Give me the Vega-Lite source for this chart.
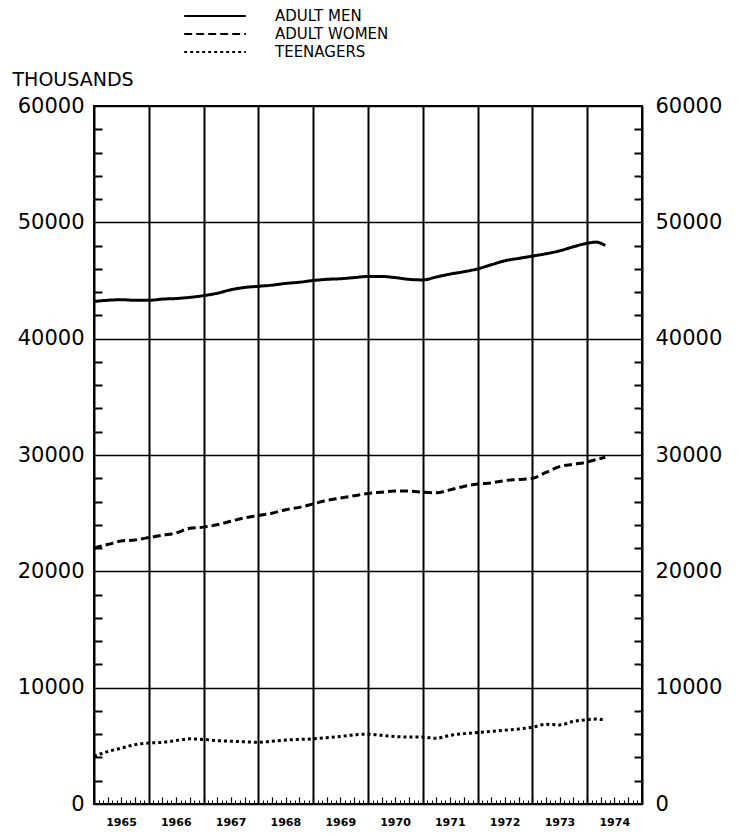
{
  "$schema": "https://vega.github.io/schema/vega-lite/v6.json",
  "width": 548,
  "height": 698,
  "autosize": {"type": "none"},
  "padding": {"left": 94, "top": 106, "right": 97, "bottom": 32},
  "background": "white",
  "config": {
    "view": {"stroke": "black", "strokeWidth": 2},
    "font": "DejaVu Sans",
    "axis": {"domain": false, "labelColor": "black", "tickColor": "black", "gridColor": "black", "gridOpacity": 1, "titleColor": "black"}
  },
  "data": {"values": [
    {"date": "1965-01-01", "series": "ADULT MEN", "value": 43200},
    {"date": "1965-04-01", "series": "ADULT MEN", "value": 43300},
    {"date": "1965-07-01", "series": "ADULT MEN", "value": 43350},
    {"date": "1965-10-01", "series": "ADULT MEN", "value": 43300},
    {"date": "1966-01-01", "series": "ADULT MEN", "value": 43300},
    {"date": "1966-04-01", "series": "ADULT MEN", "value": 43400},
    {"date": "1966-07-01", "series": "ADULT MEN", "value": 43450},
    {"date": "1966-10-01", "series": "ADULT MEN", "value": 43550},
    {"date": "1967-01-01", "series": "ADULT MEN", "value": 43700},
    {"date": "1967-04-01", "series": "ADULT MEN", "value": 43900},
    {"date": "1967-07-01", "series": "ADULT MEN", "value": 44200},
    {"date": "1967-10-01", "series": "ADULT MEN", "value": 44400},
    {"date": "1968-01-01", "series": "ADULT MEN", "value": 44500},
    {"date": "1968-04-01", "series": "ADULT MEN", "value": 44600},
    {"date": "1968-07-01", "series": "ADULT MEN", "value": 44750},
    {"date": "1968-10-01", "series": "ADULT MEN", "value": 44850},
    {"date": "1969-01-01", "series": "ADULT MEN", "value": 45000},
    {"date": "1969-04-01", "series": "ADULT MEN", "value": 45100},
    {"date": "1969-07-01", "series": "ADULT MEN", "value": 45150},
    {"date": "1969-10-01", "series": "ADULT MEN", "value": 45250},
    {"date": "1970-01-01", "series": "ADULT MEN", "value": 45350},
    {"date": "1970-04-01", "series": "ADULT MEN", "value": 45350},
    {"date": "1970-07-01", "series": "ADULT MEN", "value": 45250},
    {"date": "1970-10-01", "series": "ADULT MEN", "value": 45100},
    {"date": "1971-01-01", "series": "ADULT MEN", "value": 45050},
    {"date": "1971-04-01", "series": "ADULT MEN", "value": 45300},
    {"date": "1971-07-01", "series": "ADULT MEN", "value": 45550},
    {"date": "1971-10-01", "series": "ADULT MEN", "value": 45750},
    {"date": "1972-01-01", "series": "ADULT MEN", "value": 46000},
    {"date": "1972-04-01", "series": "ADULT MEN", "value": 46350},
    {"date": "1972-07-01", "series": "ADULT MEN", "value": 46700},
    {"date": "1972-10-01", "series": "ADULT MEN", "value": 46900},
    {"date": "1973-01-01", "series": "ADULT MEN", "value": 47100},
    {"date": "1973-04-01", "series": "ADULT MEN", "value": 47300},
    {"date": "1973-07-01", "series": "ADULT MEN", "value": 47550},
    {"date": "1973-10-01", "series": "ADULT MEN", "value": 47900},
    {"date": "1974-01-01", "series": "ADULT MEN", "value": 48200},
    {"date": "1974-03-01", "series": "ADULT MEN", "value": 48300},
    {"date": "1974-05-01", "series": "ADULT MEN", "value": 48000},
    {"date": "1965-01-01", "series": "ADULT WOMEN", "value": 22000},
    {"date": "1965-04-01", "series": "ADULT WOMEN", "value": 22300},
    {"date": "1965-07-01", "series": "ADULT WOMEN", "value": 22600},
    {"date": "1965-10-01", "series": "ADULT WOMEN", "value": 22700},
    {"date": "1966-01-01", "series": "ADULT WOMEN", "value": 22900},
    {"date": "1966-04-01", "series": "ADULT WOMEN", "value": 23100},
    {"date": "1966-07-01", "series": "ADULT WOMEN", "value": 23300},
    {"date": "1966-10-01", "series": "ADULT WOMEN", "value": 23700},
    {"date": "1967-01-01", "series": "ADULT WOMEN", "value": 23800},
    {"date": "1967-04-01", "series": "ADULT WOMEN", "value": 24000},
    {"date": "1967-07-01", "series": "ADULT WOMEN", "value": 24300},
    {"date": "1967-10-01", "series": "ADULT WOMEN", "value": 24600},
    {"date": "1968-01-01", "series": "ADULT WOMEN", "value": 24800},
    {"date": "1968-04-01", "series": "ADULT WOMEN", "value": 25000},
    {"date": "1968-07-01", "series": "ADULT WOMEN", "value": 25300},
    {"date": "1968-10-01", "series": "ADULT WOMEN", "value": 25500},
    {"date": "1969-01-01", "series": "ADULT WOMEN", "value": 25800},
    {"date": "1969-04-01", "series": "ADULT WOMEN", "value": 26100},
    {"date": "1969-07-01", "series": "ADULT WOMEN", "value": 26300},
    {"date": "1969-10-01", "series": "ADULT WOMEN", "value": 26500},
    {"date": "1970-01-01", "series": "ADULT WOMEN", "value": 26700},
    {"date": "1970-04-01", "series": "ADULT WOMEN", "value": 26800},
    {"date": "1970-07-01", "series": "ADULT WOMEN", "value": 26900},
    {"date": "1970-10-01", "series": "ADULT WOMEN", "value": 26900},
    {"date": "1971-01-01", "series": "ADULT WOMEN", "value": 26800},
    {"date": "1971-04-01", "series": "ADULT WOMEN", "value": 26750},
    {"date": "1971-07-01", "series": "ADULT WOMEN", "value": 27000},
    {"date": "1971-10-01", "series": "ADULT WOMEN", "value": 27300},
    {"date": "1972-01-01", "series": "ADULT WOMEN", "value": 27500},
    {"date": "1972-04-01", "series": "ADULT WOMEN", "value": 27600},
    {"date": "1972-07-01", "series": "ADULT WOMEN", "value": 27800},
    {"date": "1972-10-01", "series": "ADULT WOMEN", "value": 27900},
    {"date": "1973-01-01", "series": "ADULT WOMEN", "value": 28000},
    {"date": "1973-04-01", "series": "ADULT WOMEN", "value": 28500},
    {"date": "1973-07-01", "series": "ADULT WOMEN", "value": 29000},
    {"date": "1973-10-01", "series": "ADULT WOMEN", "value": 29200},
    {"date": "1974-01-01", "series": "ADULT WOMEN", "value": 29400},
    {"date": "1974-03-01", "series": "ADULT WOMEN", "value": 29600},
    {"date": "1974-05-01", "series": "ADULT WOMEN", "value": 29800},
    {"date": "1965-01-01", "series": "TEENAGERS", "value": 4100},
    {"date": "1965-04-01", "series": "TEENAGERS", "value": 4500},
    {"date": "1965-07-01", "series": "TEENAGERS", "value": 4800},
    {"date": "1965-10-01", "series": "TEENAGERS", "value": 5100},
    {"date": "1966-01-01", "series": "TEENAGERS", "value": 5250},
    {"date": "1966-04-01", "series": "TEENAGERS", "value": 5300},
    {"date": "1966-07-01", "series": "TEENAGERS", "value": 5450},
    {"date": "1966-10-01", "series": "TEENAGERS", "value": 5600},
    {"date": "1967-01-01", "series": "TEENAGERS", "value": 5550},
    {"date": "1967-04-01", "series": "TEENAGERS", "value": 5450},
    {"date": "1967-07-01", "series": "TEENAGERS", "value": 5400},
    {"date": "1967-10-01", "series": "TEENAGERS", "value": 5350},
    {"date": "1968-01-01", "series": "TEENAGERS", "value": 5300},
    {"date": "1968-04-01", "series": "TEENAGERS", "value": 5400},
    {"date": "1968-07-01", "series": "TEENAGERS", "value": 5500},
    {"date": "1968-10-01", "series": "TEENAGERS", "value": 5550},
    {"date": "1969-01-01", "series": "TEENAGERS", "value": 5600},
    {"date": "1969-04-01", "series": "TEENAGERS", "value": 5700},
    {"date": "1969-07-01", "series": "TEENAGERS", "value": 5800},
    {"date": "1969-10-01", "series": "TEENAGERS", "value": 5950},
    {"date": "1970-01-01", "series": "TEENAGERS", "value": 6000},
    {"date": "1970-04-01", "series": "TEENAGERS", "value": 5900},
    {"date": "1970-07-01", "series": "TEENAGERS", "value": 5800},
    {"date": "1970-10-01", "series": "TEENAGERS", "value": 5750},
    {"date": "1971-01-01", "series": "TEENAGERS", "value": 5750},
    {"date": "1971-04-01", "series": "TEENAGERS", "value": 5650},
    {"date": "1971-07-01", "series": "TEENAGERS", "value": 5900},
    {"date": "1971-10-01", "series": "TEENAGERS", "value": 6050},
    {"date": "1972-01-01", "series": "TEENAGERS", "value": 6150},
    {"date": "1972-04-01", "series": "TEENAGERS", "value": 6250},
    {"date": "1972-07-01", "series": "TEENAGERS", "value": 6350},
    {"date": "1972-10-01", "series": "TEENAGERS", "value": 6450},
    {"date": "1973-01-01", "series": "TEENAGERS", "value": 6600},
    {"date": "1973-04-01", "series": "TEENAGERS", "value": 6850},
    {"date": "1973-07-01", "series": "TEENAGERS", "value": 6800},
    {"date": "1973-10-01", "series": "TEENAGERS", "value": 7100},
    {"date": "1974-01-01", "series": "TEENAGERS", "value": 7250},
    {"date": "1974-03-01", "series": "TEENAGERS", "value": 7300},
    {"date": "1974-05-01", "series": "TEENAGERS", "value": 7200}
  ]},
  "layer": [
    {
      "mark": {"type": "line", "color": "black", "strokeWidth": 3, "strokeCap": "butt", "interpolate": "monotone"},
      "encoding": {
        "x": {"field": "date", "type": "temporal",
          "scale": {"domain": [{"year": 1965, "month": 1, "date": 1}, {"year": 1975, "month": 1, "date": 1}], "nice": false},
          "axis": {"orient": "bottom", "tickCount": {"interval": "year", "step": 1}, "grid": true, "gridWidth": 2, "ticks": false, "labels": false, "title": null}},
        "y": {"field": "value", "type": "quantitative",
          "scale": {"domain": [0, 60000], "nice": false},
          "axis": {"orient": "left", "values": [0, 10000, 20000, 30000, 40000, 50000, 60000], "grid": true, "gridWidth": 1.5, "ticks": false, "labelPadding": 10, "labelFontSize": 21, "format": "d",
            "title": "THOUSANDS", "titleAngle": 0, "titleAlign": "left", "titleBaseline": "middle", "titleX": -82, "titleY": -27, "titleFontSize": 19, "titleFontWeight": "normal"}},
        "strokeDash": {"field": "series", "type": "nominal",
          "scale": {"domain": ["ADULT MEN", "ADULT WOMEN", "TEENAGERS"], "range": [[1, 0], [8, 4], [3, 3]]},
          "legend": {"orient": "none", "legendX": 89, "legendY": -98, "title": null, "symbolType": "stroke", "symbolSize": 3800, "symbolStrokeWidth": 1.8, "symbolStrokeColor": "black", "clipHeight": 16, "rowPadding": 2, "labelFontSize": 15, "labelOffset": 28, "labelColor": "black"}}
      }
    },
    {
      "mark": {"type": "point", "opacity": 0},
      "encoding": {
        "x": {"field": "date", "type": "temporal",
          "axis": {"orient": "bottom", "tickCount": {"interval": "month", "step": 1}, "grid": false, "ticks": true, "tickSize": -4, "tickWidth": 1, "labels": false, "title": null}},
        "y": {"field": "value", "type": "quantitative",
          "axis": {"orient": "left", "values": [2000, 4000, 6000, 8000, 12000, 14000, 16000, 18000, 22000, 24000, 26000, 28000, 32000, 34000, 36000, 38000, 42000, 44000, 46000, 48000, 52000, 54000, 56000, 58000], "grid": false, "ticks": true, "tickSize": -8, "tickWidth": 2, "labels": false, "title": null}}
      }
    },
    {
      "mark": {"type": "point", "opacity": 0},
      "encoding": {
        "x": {"field": "date", "type": "temporal",
          "axis": {"orient": "bottom", "tickCount": {"interval": "month", "step": 3}, "grid": false, "ticks": true, "tickSize": -7, "tickWidth": 1.2, "labels": false, "title": null}},
        "y": {"field": "value", "type": "quantitative",
          "axis": {"orient": "right", "values": [0, 10000, 20000, 30000, 40000, 50000, 60000], "grid": false, "ticks": false, "labelPadding": 13, "labelFontSize": 21, "format": "d", "title": null}}
      }
    },
    {
      "mark": {"type": "point", "opacity": 0},
      "encoding": {
        "x": {"field": "date", "type": "temporal",
          "axis": {"orient": "bottom", "tickCount": {"interval": "year", "step": 1}, "grid": false, "ticks": false, "labels": true, "labelOffset": 27, "labelFlush": false, "labelOverlap": false, "labelBound": false, "labelPadding": 12, "labelFontSize": 11, "labelFontWeight": "bold", "labelBaseline": "top",
            "labelExpr": "year(datum.value) >= 1975 ? '' : timeFormat(datum.value, '%Y')", "title": null}},
        "y": {"field": "value", "type": "quantitative",
          "axis": {"orient": "right", "values": [2000, 4000, 6000, 8000, 12000, 14000, 16000, 18000, 22000, 24000, 26000, 28000, 32000, 34000, 36000, 38000, 42000, 44000, 46000, 48000, 52000, 54000, 56000, 58000], "grid": false, "ticks": true, "tickSize": -8, "tickWidth": 2, "labels": false, "title": null}}
      }
    }
  ],
  "resolve": {"axis": {"x": "independent", "y": "independent"}}
}
